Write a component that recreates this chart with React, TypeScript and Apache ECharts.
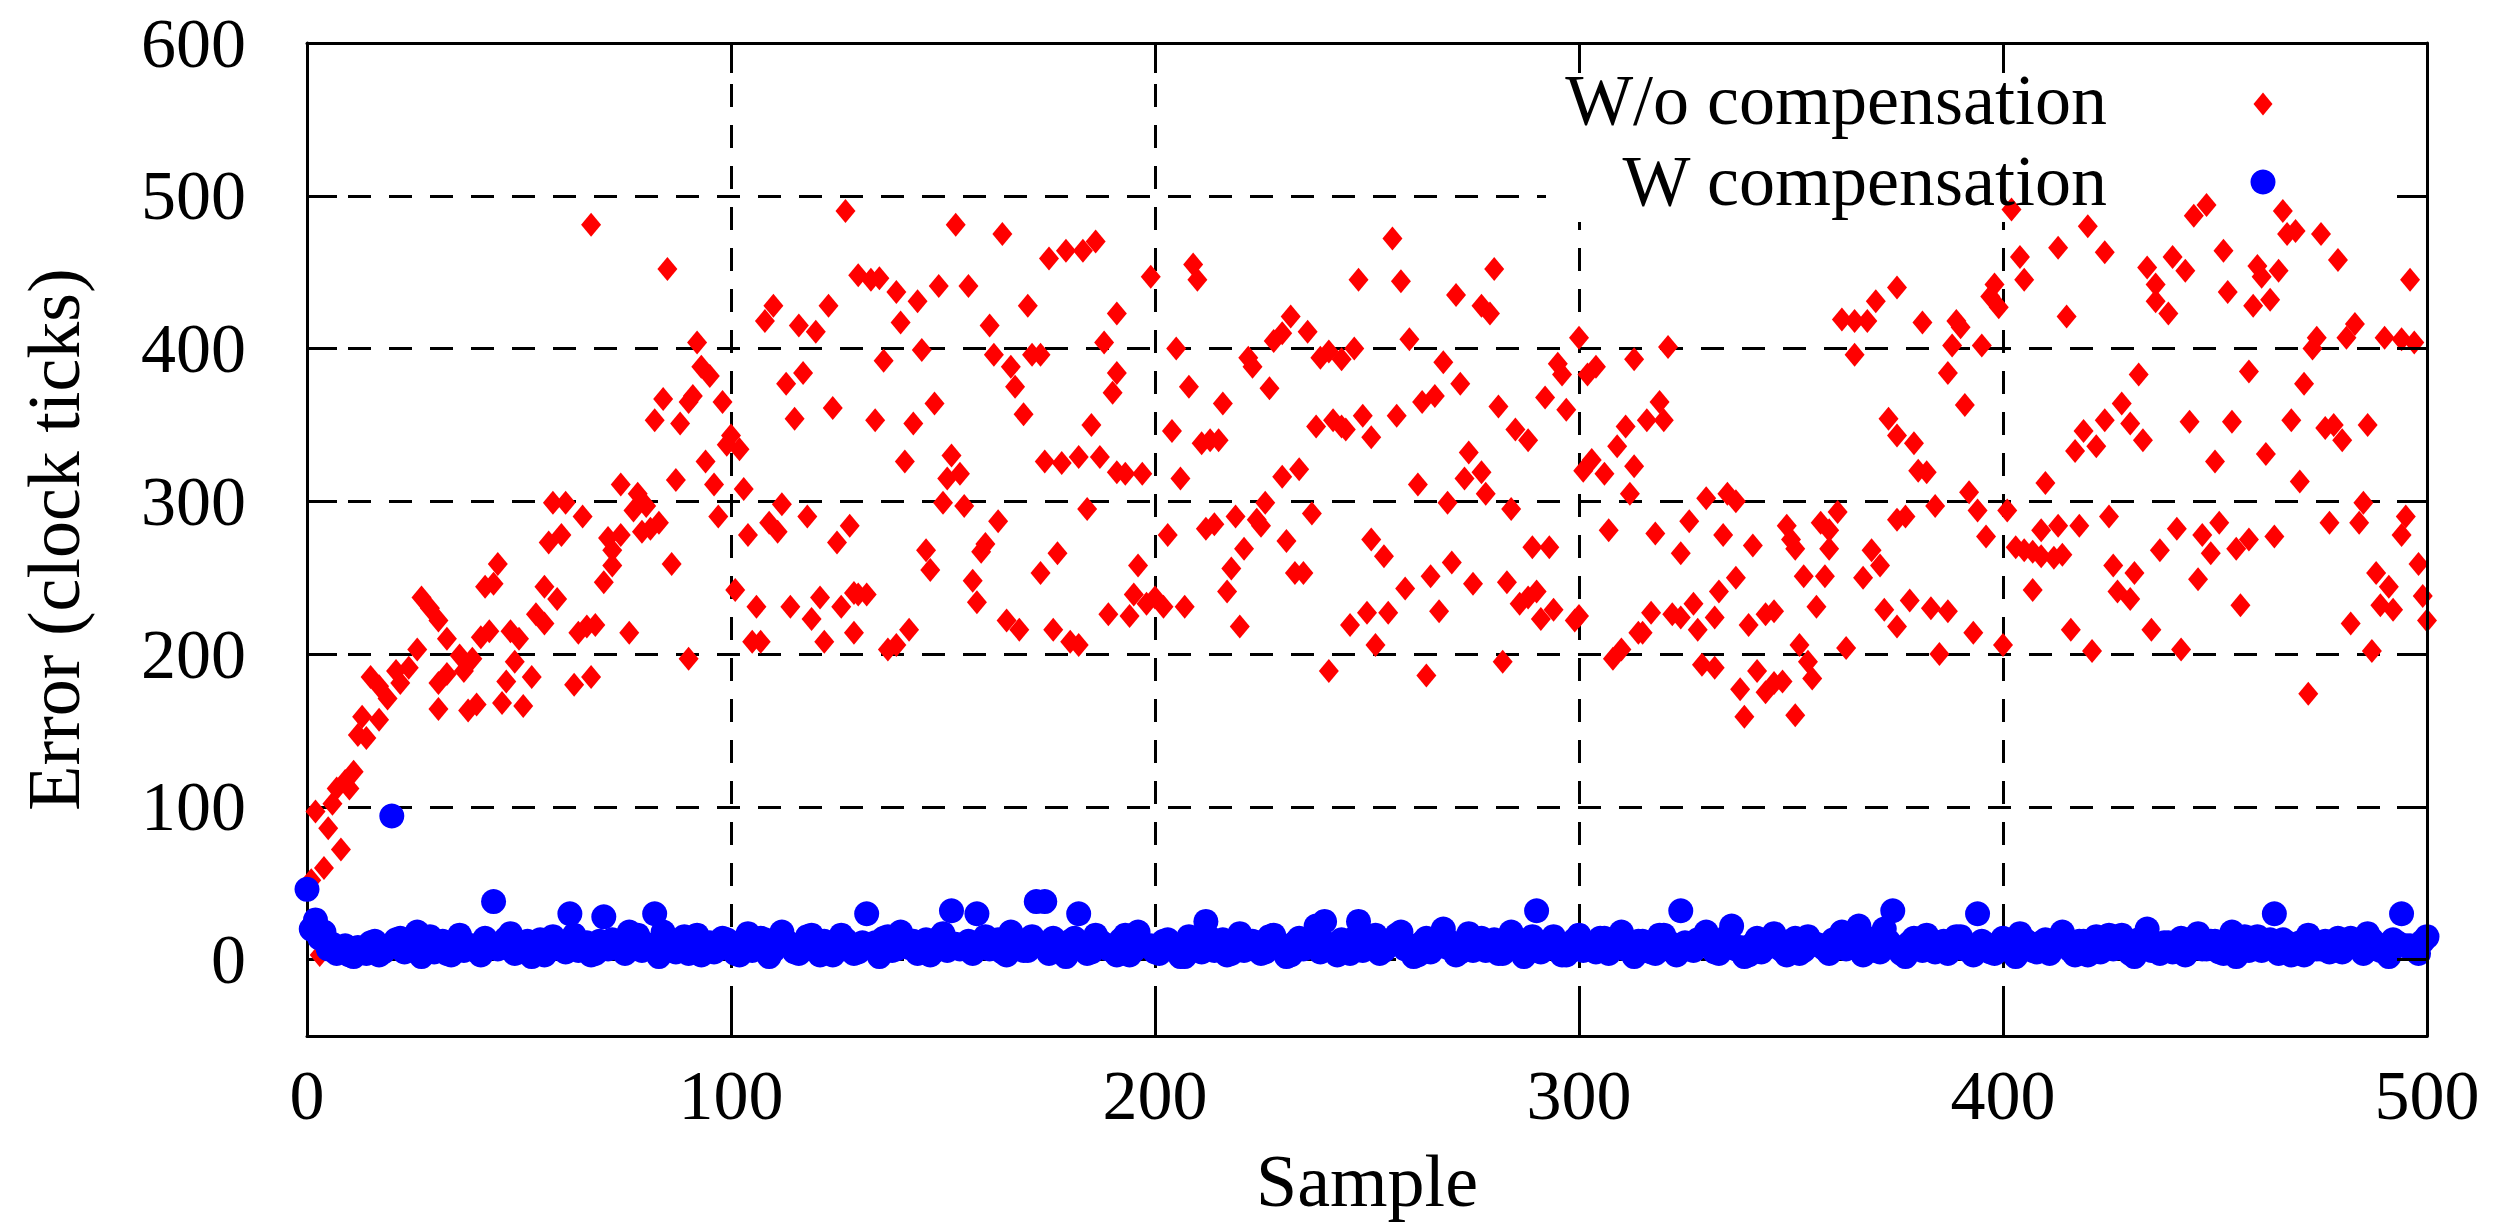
import React, { useEffect, useRef } from 'react';
import * as echarts from 'echarts';

const FONT = "'Liberation Serif', 'Times New Roman', serif";

const xTickValues = [0, 100, 200, 300, 400, 500];
const yTickValues = [0, 100, 200, 300, 400, 500, 600];
const legendLabels = ['W/o compensation', 'W compensation'];
const axisNames = { x: 'Sample', y: 'Error (clock ticks)' };

// "W/o compensation" samples: [sample, error]
const redSamples0to70: [number, number][] = [
  [67,481],[58,299],[61,299],[65,290],[57,273],[60,278],[56,244],[59,236],[54,226],[56,220],[64,214],[66,218],[68,219],[63,180],[67,185],
  [45,259],[42,244],[44,246],[41,211],[43,215],[48,215],[50,210],[49,195],[47,182],[53,185],[46,168],[51,166],
  [27,237],[29,230],[31,222],[33,210],[26,203],[31,181],[31,164],[33,187],[36,199],[37,189],[39,197],[38,163],[40,167],
  [15,185],[17,179],[19,171],[21,189],[22,181],[24,191],[17,157],[13,159],[12,147],[14,145],[11,123],[9,117],[7,112],[6,102],[10,112],
  [2,97],[5,86],[8,72],[4,60],[1,52],[3,3],
];
const redSamples70to130: [number, number][] = [
  [85,452],[127,490],[130,448],[110,428],[108,418],[116,415],[120,411],[123,428],[92,404],[93,388],[95,382],[113,377],[117,384],[115,354],
  [124,361],[84,367],[82,353],[88,351],[90,365],[91,369],[98,365],[100,343],[102,334],[99,337],[94,326],[96,311],[87,314],[103,308],
  [74,311],[78,305],[77,294],[80,297],[71,276],[74,278],[79,280],[81,282],[83,286],[72,268],[72,258],[70,247],[86,259],[97,290],
  [104,278],[109,286],[111,280],[112,298],[118,290],[125,273],[128,284],[76,214],[90,197],[101,242],[106,231],[105,208],[107,208],
  [114,231],[119,223],[121,237],[122,208],[126,231],[129,240],[129,214],
];
const redSamples130to190: [number, number][] = [
  [153,481],[164,475],[175,459],[179,464],[183,464],[186,470],[133,445],[135,446],[139,437],[144,431],[149,441],[156,441],[170,428],
  [161,415],[140,417],[136,392],[145,399],[162,396],[166,388],[171,396],[173,396],[167,375],[169,357],[188,404],[191,423],[191,384],
  [190,371],[134,353],[143,351],[148,364],[141,326],[152,330],[151,315],[154,318],[150,299],[155,297],[163,287],[174,326],[178,325],
  [182,329],[187,329],[185,350],[184,295],[191,319],[146,268],[147,255],[159,267],[160,272],[157,248],[158,234],[177,266],[173,253],
  [130,239],[132,239],[137,203],[139,206],[142,216],[165,222],[168,216],[176,216],[180,208],[182,206],[189,226],
];
const redSamples190to250: [number, number][] = [
  [199,447],[209,455],[210,445],[248,445],[205,400],[208,375],[216,364],[222,394],[223,388],[227,374],[228,405],[230,410],[232,421],
  [236,411],[239,394],[241,398],[244,393],[247,400],[193,318],[197,318],[204,346],[206,315],[211,338],[213,340],[215,340],[230,316],
  [234,321],[238,349],[242,353],[244,349],[245,347],[249,356],[251,342],[203,278],[212,282],[214,285],[219,290],[224,288],[225,284],
  [226,299],[231,274],[237,292],[251,275],[221,269],[218,256],[217,241],[196,258],[195,239],[198,233],[200,237],[202,231],[207,231],
  [194,225],[233,253],[235,253],[220,218],[246,219],[250,227],[252,206],[241,189],
];
const redSamples250to315: [number, number][] = [
  [256,472],[258,444],[280,452],[271,435],[277,428],[279,423],[260,406],[300,407],[268,391],[272,377],[295,390],[296,383],[302,383],
  [304,388],[313,393],[263,365],[266,369],[281,362],[292,368],[297,360],[257,356],[285,347],[288,340],[311,349],[309,336],[274,332],
  [273,315],[277,319],[278,305],[262,311],[269,299],[284,295],[301,320],[303,327],[306,318],[313,323],[312,305],[307,281],[254,264],
  [270,260],[289,270],[293,270],[259,243],[265,251],[267,228],[275,246],[283,247],[286,233],[288,237],[290,241],[291,223],[294,229],
  [299,222],[300,225],[255,227],[264,186],[282,195],[308,197],[310,203],[314,214],
];
const redSamples315to376: [number, number][] = [
  [321,401],[365,418],[362,419],[368,418],[370,431],[375,440],[365,396],[319,365],[320,353],[316,353],[373,354],[375,343],[330,302],
  [335,305],[337,300],[318,279],[326,287],[324,266],[334,278],[341,271],[337,250],[333,241],[349,284],[350,275],[351,269],[357,286],
  [361,293],[359,281],[359,269],[353,251],[358,251],[356,231],[369,268],[371,258],[367,250],[375,288],[372,229],[375,218],[317,227],
  [315,214],[322,226],[324,224],[327,233],[328,216],[332,224],[340,219],[344,226],[346,228],[352,206],[354,195],[355,184],[363,204],
  [329,193],[332,191],[338,177],[342,189],[344,175],[346,181],[348,182],[339,159],[351,160],
];
const redSamples376to438: [number, number][] = [
  [402,491],[404,460],[405,445],[413,466],[420,480],[424,463],[434,453],[436,442],[436,431],[381,417],[389,418],[390,414],[388,402],
  [395,402],[398,442],[397,434],[399,427],[415,421],[387,384],[391,363],[432,383],[379,338],[380,320],[382,319],[384,297],[377,290],
  [392,306],[394,294],[396,277],[401,294],[410,312],[417,333],[419,346],[422,336],[424,353],[428,364],[430,351],[433,340],[403,270],
  [405,268],[407,267],[409,264],[412,263],[414,265],[409,281],[413,284],[418,284],[425,290],[407,242],[426,258],[431,253],[427,241],
  [430,236],[437,268],[378,235],[383,230],[387,228],[385,200],[393,214],[400,206],[416,216],[421,202],[435,216],
];
const redSamples438to500: [number, number][] = [
  [448,494],[445,487],[466,490],[467,475],[469,477],[475,475],[479,458],[452,464],[440,460],[443,451],[439,423],[460,454],[461,447],
  [465,451],[453,437],[459,428],[463,432],[496,445],[474,407],[473,400],[481,407],[483,416],[490,407],[494,406],[497,404],[458,385],
  [471,377],[444,352],[454,352],[468,353],[476,348],[478,350],[480,340],[486,350],[450,326],[462,331],[470,313],[485,299],[484,286],
  [477,286],[495,290],[494,278],[441,282],[447,278],[449,266],[451,286],[455,269],[458,275],[464,277],[446,249],[456,232],[442,203],
  [472,174],[482,220],[487,202],[488,253],[491,244],[489,232],[492,229],[498,259],[499,238],[500,222],
];

// "W compensation": even samples 0, 2, ..., 500
const blueEvenValues: number[] = [
  46, 26, 18, 10, 6, 3, 8, 4, 12, 5, 94, 14, 8, 18, 10, 5, 12, 3, 16, 9,
  6, 14, 38, 10, 17, 5, 12, 8, 3, 15, 9, 30, 6, 11, 4, 28, 13, 8, 18, 16,
  10, 30, 18, 7, 12, 4, 16, 9, 5, 14, 11, 3, 17, 8, 13, 6, 18, 10, 4, 15,
  7, 12, 3, 16, 9, 5, 30, 11, 14, 6, 18, 8, 4, 13, 10, 17, 32, 7, 12, 30,
  15, 9, 5, 18, 11, 6, 38, 38, 14, 8, 12, 30, 4, 16, 10, 7, 13, 3, 18, 9,
  5, 12, 8, 2, 15, 10, 25, 6, 13, 4, 17, 9, 11, 5, 16, 8, 3, 14, 12, 22,
  25, 7, 13, 4, 25, 10, 16, 6, 12, 18, 9, 3, 14, 8, 20, 11, 5, 17, 10, 6,
  13, 4, 18, 9, 12, 32, 7, 15, 3, 10, 16, 8, 5, 14, 11, 18, 6, 12, 9, 4,
  16, 10, 32, 7, 13, 18, 5, 11, 22, 8, 3, 14, 9, 17, 6, 12, 4, 15, 10, 7,
  13, 18, 9, 22, 14, 6, 20, 32, 4, 11, 8, 16, 5, 12, 9, 15, 7, 30, 10, 4,
  14, 8, 17, 11, 5, 13, 9, 18, 6, 12, 3, 15, 10, 7, 16, 4, 13, 20, 8, 11,
  5, 14, 9, 17, 7, 12, 4, 18, 10, 6, 15, 8, 30, 13, 3, 11, 16, 7, 12, 9,
  5, 14, 8, 17, 10, 6, 13, 30, 9, 4, 15,
];
// "W compensation": odd samples 1, 3, ..., 499
const blueOddValues: number[] = [
  20, 14, 7, 4, 9, 2, 6, 11, 3, 8, 13, 5, 10, 2, 15, 7, 4, 12, 6, 9,
  3, 11, 7, 14, 4, 9, 2, 13, 6, 10, 5, 16, 8, 3, 12, 7, 10, 4, 14, 6,
  9, 2, 12, 5, 15, 8, 3, 11, 7, 13, 4, 10, 6, 14, 2, 9, 12, 5, 8, 16,
  3, 10, 6, 13, 4, 11, 8, 2, 15, 7, 9, 12, 5, 3, 14, 6, 10, 8, 4, 12,
  7, 13, 3, 10, 6, 15, 9, 4, 11, 2, 14, 8, 5, 12, 7, 3, 16, 6, 10, 9,
  4, 13, 7, 2, 11, 5, 14, 8, 3, 10, 6, 12, 4, 15, 9, 2, 11, 7, 13, 5,
  10, 3, 8, 14, 6, 12, 4, 9, 16, 7, 2, 11, 5, 13, 8, 3, 10, 6, 14, 9,
  4, 12, 7, 2, 15, 5, 11, 8, 3, 13, 6, 9, 14, 4, 10, 7, 2, 12, 5, 16,
  8, 3, 11, 6, 13, 9, 4, 15, 7, 2, 10, 5, 12, 8, 3, 14, 6, 11, 9, 4,
  13, 7, 16, 3, 10, 5, 12, 8, 2, 14, 6, 9, 11, 4, 15, 7, 3, 12, 5, 10,
  8, 2, 13, 6, 11, 4, 14, 9, 3, 12, 7, 5, 16, 8, 10, 2, 13, 6, 4, 11,
  9, 3, 14, 7, 12, 5, 10, 2, 15, 8, 6, 13, 4, 11, 9, 3, 12, 7, 5, 14,
  8, 10, 4, 13, 6, 2, 11, 9, 7, 12,
];

const redData = [
  ...redSamples0to70, ...redSamples70to130, ...redSamples130to190, ...redSamples190to250,
  ...redSamples250to315, ...redSamples315to376, ...redSamples376to438, ...redSamples438to500,
];
const blueData = [
  ...blueOddValues.map((v, i) => [i * 2 + 1, v]),
  ...blueEvenValues.map((v, i) => [i * 2, v]),
];

const RED = '#ff0000';
const BLUE = '#0000ff';

export default function App() {
  const ref = useRef<HTMLDivElement>(null);
  useEffect(() => {
    if (!ref.current) return;
    const chart = echarts.init(ref.current, undefined, { renderer: 'svg' });
    const lineStyle = { color: '#000', width: 3 };
    const xMin = xTickValues[0];
    const xMax = xTickValues[xTickValues.length - 1];
    const xInterval = xTickValues[1] - xTickValues[0];
    const yMax = yTickValues[yTickValues.length - 1];
    const yMin = -50;
    const yFormatter = (v: number) => (yTickValues.indexOf(v) >= 0 ? String(v) : '');
    const legendTextStyle = {
      fontFamily: FONT, fontSize: 72, lineHeight: 72, fill: '#000', align: 'right', verticalAlign: 'middle',
    };
    chart.setOption({
      animation: false,
      backgroundColor: '#ffffff',
      grid: { left: 307, right: 88, top: 43, bottom: 184, containLabel: false, show: false },
      xAxis: [
        {
          type: 'value', min: xMin, max: xMax, interval: xInterval, position: 'bottom', z: 0,
          name: axisNames.x, nameLocation: 'middle', nameGap: 108,
          nameTextStyle: { fontFamily: FONT, fontSize: 74, color: '#000' },
          axisLine: { show: true, onZero: false, lineStyle },
          axisTick: { show: true, inside: true, length: 30, lineStyle },
          axisLabel: { show: true, fontFamily: FONT, fontSize: 70, color: '#000', margin: 24 },
          splitLine: { show: true, lineStyle: { color: '#000', width: 3, type: [23, 18] } },
        },
        {
          type: 'value', min: xMin, max: xMax, interval: xInterval, position: 'top', z: 3,
          axisLine: { show: true, onZero: false, lineStyle },
          axisTick: { show: true, inside: true, length: 30, lineStyle },
          axisLabel: { show: false },
          splitLine: { show: false },
        },
      ],
      yAxis: [
        {
          type: 'value', min: yMin, max: yMax, splitNumber: 6, position: 'left', z: 0,
          name: axisNames.y, nameLocation: 'middle', nameGap: 216, nameRotate: 90,
          nameTextStyle: { fontFamily: FONT, fontSize: 74, color: '#000' },
          axisLine: { show: true, onZero: false, lineStyle },
          axisTick: { show: true, inside: true, length: 30, lineStyle },
          axisLabel: { show: true, fontFamily: FONT, fontSize: 70, color: '#000', margin: 61, formatter: yFormatter },
          splitLine: { show: true, lineStyle: { color: '#000', width: 3, type: [23, 18] } },
        },
        {
          type: 'value', min: yMin, max: yMax, splitNumber: 6, position: 'right', z: 3,
          axisLine: { show: true, onZero: false, lineStyle },
          axisTick: { show: true, inside: true, length: 30, lineStyle },
          axisLabel: { show: false },
          splitLine: { show: false },
        },
      ],
      series: [
        {
          type: 'scatter', name: legendLabels[0], data: redData, xAxisIndex: 0, yAxisIndex: 0,
          symbol: 'diamond', symbolSize: [20, 24], z: 2,
          itemStyle: { color: RED, opacity: 1 },
        },
        {
          type: 'scatter', name: legendLabels[1], data: blueData, xAxisIndex: 0, yAxisIndex: 0,
          symbol: 'circle', symbolSize: 25, z: 2,
          itemStyle: { color: BLUE, opacity: 1 },
        },
      ],
      graphic: [
        { type: 'rect', z: 1, silent: true, shape: { x: 1546, y: 45, width: 879, height: 177 }, style: { fill: '#ffffff' } },
        { type: 'text', z: 4, x: 2107, y: 100, style: { ...legendTextStyle, text: legendLabels[0] } },
        { type: 'text', z: 4, x: 2107, y: 181, style: { ...legendTextStyle, text: legendLabels[1] } },
        {
          type: 'polygon', z: 4, x: 2263, y: 104,
          shape: { points: [[0, -11.5], [9.5, 0], [0, 11.5], [-9.5, 0]] }, style: { fill: RED },
        },
        { type: 'circle', z: 4, x: 2263, y: 182, shape: { cx: 0, cy: 0, r: 12.5 }, style: { fill: BLUE } },
      ],
    });
    return () => chart.dispose();
  }, []);
  return <div ref={ref} style={{ position: 'fixed', left: 0, top: 0, width: 2515, height: 1223 }} />;
}
